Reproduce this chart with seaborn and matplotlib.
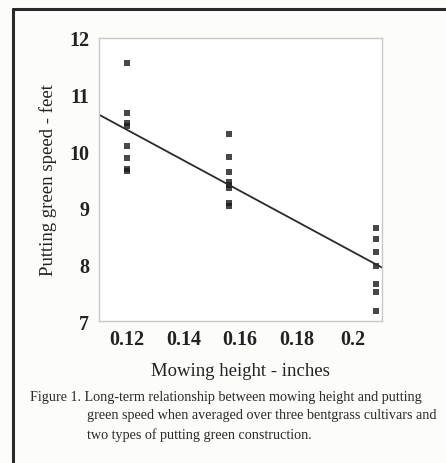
import numpy as np
import pandas as pd
import matplotlib
matplotlib.use("Agg")
import matplotlib.pyplot as plt
import seaborn as sns
from matplotlib.lines import Line2D
from matplotlib.ticker import MultipleLocator

# Data
height_012 = [11.55, 10.67, 10.50, 10.44, 10.09, 9.88, 9.68, 9.65]
height_0156 = [10.30, 9.90, 9.63, 9.46, 9.40, 9.35, 9.08, 9.04]
height_0208 = [8.65, 8.45, 8.22, 7.98, 7.65, 7.52, 7.18]
mowing_heights = [0.12, 0.156, 0.208]
x_ticks = [0.12, 0.14, 0.16, 0.18, 0.2]
x_tick_labels = ["0.12", "0.14", "0.16", "0.18", "0.2"]
y_ticks = [7, 8, 9, 10, 11, 12]

groups = [height_012, height_0156, height_0208]
xs, ys = [], []
for h, vals in zip(mowing_heights, groups):
    xs += [h] * len(vals)
    ys += vals
df = pd.DataFrame({"height": xs, "speed": ys})

sns.set_theme(style="white")
plt.rcParams["font.family"] = ["Liberation Serif", "DejaVu Serif"]

fig = plt.figure(figsize=(4.46, 4.64), dpi=100, facecolor="#fcfcfa")
ax = fig.add_axes([0.222, 0.306, 0.635, 0.610])
ax.set_facecolor("white")

ax.set_xlim(0.11, 0.2103)
ax.set_ylim(7, 12)
sns.regplot(data=df, x="height", y="speed", ax=ax, ci=None, truncate=False,
            marker="s", scatter_kws=dict(s=14, color="#1a1a1a", linewidths=0),
            line_kws=dict(color="#2a2a2a", lw=1.3))
ax.set_xlim(0.11, 0.2103)
ax.set_ylim(7, 12)

ax.set_xticks(x_ticks)
ax.set_xticklabels(x_tick_labels, fontweight="bold", fontsize=14.5, color="#222222")
ax.set_yticks(y_ticks)
ax.set_yticklabels([str(v) for v in y_ticks], fontweight="bold", fontsize=14.5, color="#222222")
ax.xaxis.set_minor_locator(MultipleLocator(0.01))
ax.yaxis.set_minor_locator(MultipleLocator(0.2))
ax.tick_params(which="both", direction="in", color="#bbbbbb", top=False, right=False)
ax.tick_params(which="major", length=3, width=0.8, pad=6)
ax.tick_params(which="minor", length=2, width=0.6)
ax.tick_params(axis="y", pad=7)

for s in ax.spines.values():
    s.set_color("#c8c8c8")
    s.set_linewidth(1.0)

ax.set_xlabel("Mowing height - inches", fontsize=13.5, color="#222222", labelpad=9)
ax.set_ylabel("Putting green speed - feet", fontsize=13.5, color="#222222", labelpad=9)

cap_kw = dict(fontsize=10.2, color="#2a2a2a", va="center", ha="left")
fig.text(30 / 446, 1 - 397 / 464,
         "Figure 1. Long-term relationship between mowing height and putting", **cap_kw)
fig.text(87 / 446, 1 - 416 / 464,
         "green speed when averaged over three bentgrass cultivars and", **cap_kw)
fig.text(87 / 446, 1 - 435 / 464,
         "two types of putting green construction.", **cap_kw)

# outer frame (left and top edges)
fig.add_artist(Line2D([13 / 446, 13 / 446], [0, 1 - 10 / 464], transform=fig.transFigure,
                      color="#2a2a2a", lw=2.2))
fig.add_artist(Line2D([13 / 446, 1], [1 - 10 / 464, 1 - 10 / 464], transform=fig.transFigure,
                      color="#2a2a2a", lw=2.2))

fig.savefig("out.png", dpi=100, facecolor=fig.get_facecolor())
